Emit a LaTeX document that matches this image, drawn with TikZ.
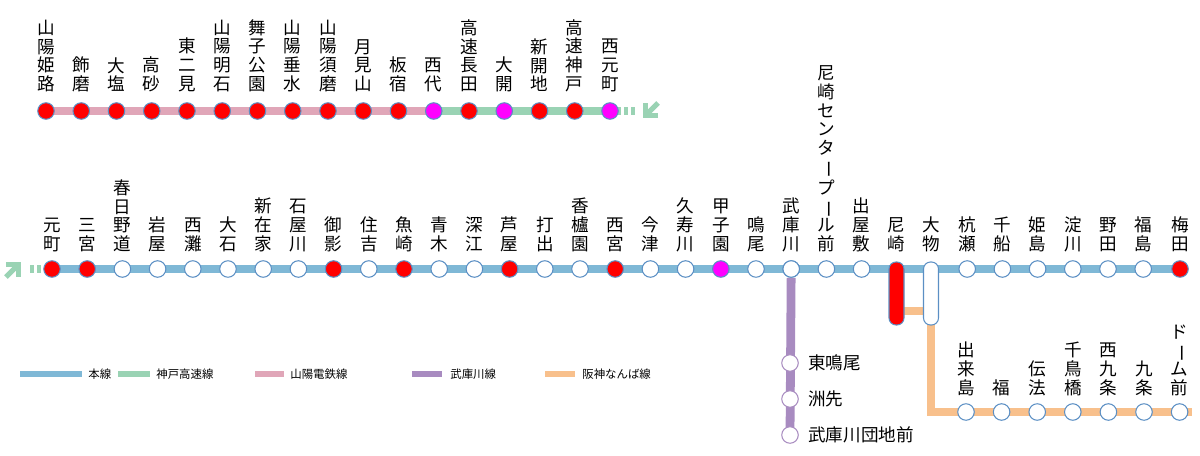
\documentclass[tikz,border=0pt]{standalone}
\usepackage{fontspec}
\setmainfont{Noto Sans CJK JP}
\usepackage{graphicx}
\usetikzlibrary{arrows.meta}
\newcommand{\cho}{\rotatebox[origin=c]{-90}{ー}}
\definecolor{honsen}{HTML}{7FB8D6}
\definecolor{kobe}{HTML}{9AD3B4}
\definecolor{sanyo}{HTML}{E0A6B8}
\definecolor{muko}{HTML}{A88BC0}
\definecolor{namba}{HTML}{F8C08C}
\definecolor{rim}{HTML}{5B8FC4}
\definecolor{mag}{HTML}{FF00FF}
\begin{document}
\begin{tikzpicture}[x=0.02cm,y=-0.02cm]
  \tikzset{
    stn/.style={circle,draw=rim,line width=0.6pt,fill=white,minimum size=9.4pt,inner sep=0pt},
    lab/.style={anchor=south,align=center,inner sep=0pt,font=\fontsize{10}{10.6}\selectfont},
    sidelab/.style={anchor=west,inner sep=0pt,font=\fontsize{10}{12}\selectfont},
    leg/.style={anchor=west,inner sep=0pt,font=\fontsize{6.5}{8}\selectfont},
    track/.style={line width=5pt}
  }
  \useasboundingbox (0,0) rectangle (1200,456);
  % upper row: Sanyo / Kobe Kosoku
  \coordinate (t0) at (46,111);
  \coordinate (t11) at (433,111);
  \coordinate (t16) at (610,111);
  \coordinate (tend) at (635,111);
  \draw[sanyo,track] (t0) -- (t11);
  \draw[kobe,track] (t11) -- (t16);
  \draw[kobe,line width=5pt,dash pattern=on 2pt off 2pt] (t16) -- (tend);
  \draw[kobe,line width=3pt,-{Straight Barb[length=5pt]}] (658,103) -- (643,118);
  \foreach \i/\nm/\col in {0/{山\\陽\\姫\\路}/red,1/{飾\\磨}/red,2/{大\\塩}/red,3/{高\\砂}/red,
      4/{東\\二\\見}/red,5/{山\\陽\\明\\石}/red,6/{舞\\子\\公\\園}/red,7/{山\\陽\\垂\\水}/red,
      8/{山\\陽\\須\\磨}/red,9/{月\\見\\山}/red,10/{板\\宿}/red,11/{西\\代}/mag,
      12/{高\\速\\長\\田}/red,13/{大\\開}/mag,14/{新\\開\\地}/red,15/{高\\速\\神\\戸}/red,16/{西\\元\\町}/mag}{
    \node[stn,fill=\col] (u\i) at (46+35.25*\i,111) {};
    \node[lab] (ul\i) at (46+35.25*\i,92) {\nm};
  }
  % main line
  \coordinate (m0) at (52,269);
  \coordinate (mend) at (1180,269);
  \draw[honsen,track] (m0) -- (mend);
  \draw[kobe,line width=5pt,dash pattern=on 2pt off 2pt] (30,269) -- (m0);
  \draw[kobe,line width=3pt,-{Straight Barb[length=5pt]}] (6,277) -- (21,262);
  \foreach \i/\nm/\col in {0/{元\\町}/red,1/{三\\宮}/red,2/{春\\日\\野\\道}/white,3/{岩\\屋}/white,
      4/{西\\灘}/white,5/{大\\石}/white,6/{新\\在\\家}/white,7/{石\\屋\\川}/white,8/{御\\影}/red,
      9/{住\\吉}/white,10/{魚\\崎}/red,11/{青\\木}/white,12/{深\\江}/white,13/{芦\\屋}/red,
      14/{打\\出}/white,15/{香\\櫨\\園}/white,16/{西\\宮}/red,17/{今\\津}/white,18/{久\\寿\\川}/white,
      19/{甲\\子\\園}/mag,20/{鳴\\尾}/white,21/{武\\庫\\川}/white,
      22/{尼\\崎\\セ\\ン\\タ\\\cho\\プ\\\cho\\ル\\前}/white,23/{出\\屋\\敷}/white,
      26/{杭\\瀬}/white,27/{千\\船}/white,28/{姫\\島}/white,29/{淀\\川}/white,30/{野\\田}/white,
      31/{福\\島}/white}{
    \node[stn,fill=\col] (s\i) at (52+35.2*\i,269) {};
    \node[lab] (sl\i) at (52+35.2*\i,252) {\nm};
  }
  \node[stn,fill=red] (s32) at (1180,269) {};
  \node[lab] (sl32) at (1180,252) {梅\\田};
  \node[lab] (sl24) at (896,252) {尼\\崎};
  \node[lab] (sl25) at (931,252) {大\\物};
  % Hanshin Namba line
  \coordinate (nk) at (931,412);
  \coordinate (nend) at (1192,412);
  \draw[namba,track] (896,311) -- (931,311);
  \draw[namba,track] (931,300) -- (nk) -- (nend);
  \draw[rim,line width=0.6pt,fill=red,rounded corners=4pt] (889,262) rectangle (904,325);
  \draw[rim,line width=0.6pt,fill=white,rounded corners=4pt] (923.5,262) rectangle (938.5,325);
  \foreach \i/\nm in {0/{出\\来\\島},1/{福},2/{伝\\法},3/{千\\鳥\\橋},4/{西\\九\\条},5/{九\\条},6/{ド\\\cho\\ム\\前}}{
    \node[stn] (n\i) at (966+35.6*\i,412) {};
    \node[lab] (nl\i) at (966+35.6*\i,396) {\nm};
  }
  % Mukogawa line
  \draw[muko,track] (s21) -- (790,435);
  \node[stn,draw=muko] (k1) at (790,363) {};
  \node[stn,draw=muko] (k2) at (790,399) {};
  \node[stn,draw=muko] (k3) at (790,435) {};
  \node[sidelab] at (808,363) {東鳴尾};
  \node[sidelab] at (808,399) {洲先};
  \node[sidelab] at (808,435) {武庫川団地前};
  \node[stn] at (s21) {};
  % legend
  \draw[honsen,line width=3pt] (20,374) -- (82,374);
  \node[leg] at (88,374) {本線};
  \draw[kobe,line width=3pt] (118,374) -- (150,374);
  \node[leg] at (156,374) {神戸高速線};
  \draw[sanyo,line width=3pt] (255,374) -- (284,374);
  \node[leg] at (290,374) {山陽電鉄線};
  \draw[muko,line width=3pt] (412,374) -- (442,374);
  \node[leg] at (450,374) {武庫川線};
  \draw[namba,line width=3pt] (545,374) -- (575,374);
  \node[leg] at (582,374) {阪神なんば線};
\end{tikzpicture}
\end{document}
